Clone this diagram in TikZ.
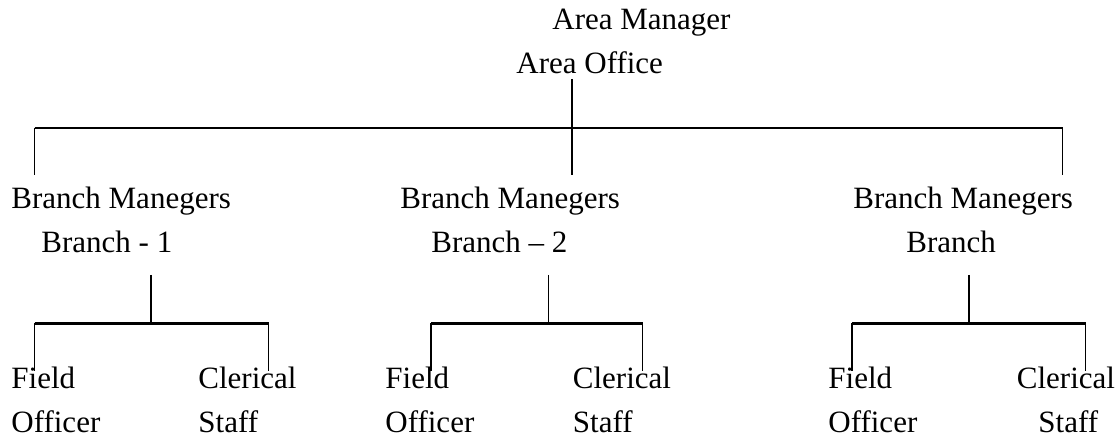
\documentclass[tikz,border=0pt]{standalone}
\usepackage{fontspec}
\setmainfont{Liberation Serif}
\usetikzlibrary{positioning}
\tikzset{
  lbl/.style ={anchor=base west, inner sep=0pt, font=\fontsize{15.5}{19}\selectfont},
  vl/.style  ={draw=black, line width=0.85pt},
  hl/.style  ={draw=black, line width=1.35pt},
}

\begin{document}
\begin{tikzpicture}[x=0.5pt,y=-0.5pt]
\useasboundingbox (0,0) rectangle (1119,438);

% ---------- level 1: area ----------
\node[lbl] (mgr)    at (552,30) {Area Manager};
\node[lbl] (office) at (516,74) {Area Office};
\coordinate (top)  at (572,79);
\coordinate (topd) at (572,175);
\coordinate (barl) at (34.5,128);
\coordinate (barr) at (1062.5,128);
\draw[vl] (top) -- (topd);
\draw[hl] (barl) -- (barr);
\draw[vl] (barl) -- ++(0,47);
\draw[vl] (barr) -- ++(0,47);

% ---------- level 2: branches ----------
\node[lbl] (bm1) at (11,208.5)  {Branch Manegers};
\node[lbl] (br1) at (41,252.5)  {Branch - 1};
\node[lbl] (bm2) at (400,208.5) {Branch Manegers};
\node[lbl] (br2) at (431,252.5) {Branch -- 2};
\node[lbl] (bm3) at (853,208.5) {Branch Manegers};
\node[lbl] (br3) at (906,252.5) {Branch};

% ---------- level 3: staff ----------
\foreach \i/\v/\a/\b in {1/151/34.5/268.5, 2/548.5/431/642.5, 3/969/852/1085.5}{
  \coordinate (s\i) at (\v,275);
  \coordinate (j\i) at (\v,323.5);
  \coordinate (l\i) at (\a,323.5);
  \coordinate (r\i) at (\b,323.5);
  \draw[vl] (s\i) -- (j\i);
  \draw[hl] (l\i) -- (r\i);
  \draw[vl] (l\i) -- ++(0,47);
  \draw[vl] (r\i) -- ++(0,47);
}
\foreach \i/\f/\c/\s in {1/11/198/198, 2/385/572.5/572.5, 3/828/1016.5/1038}{
  \node[lbl] (fld\i) at (\f,388.5) {Field};
  \node[lbl] (off\i) at (\f,432)   {Officer};
  \node[lbl] (cle\i) at (\c,388.5) {Clerical};
  \node[lbl] (stf\i) at (\s,432)   {Staff};
}
\end{tikzpicture}
\end{document}
